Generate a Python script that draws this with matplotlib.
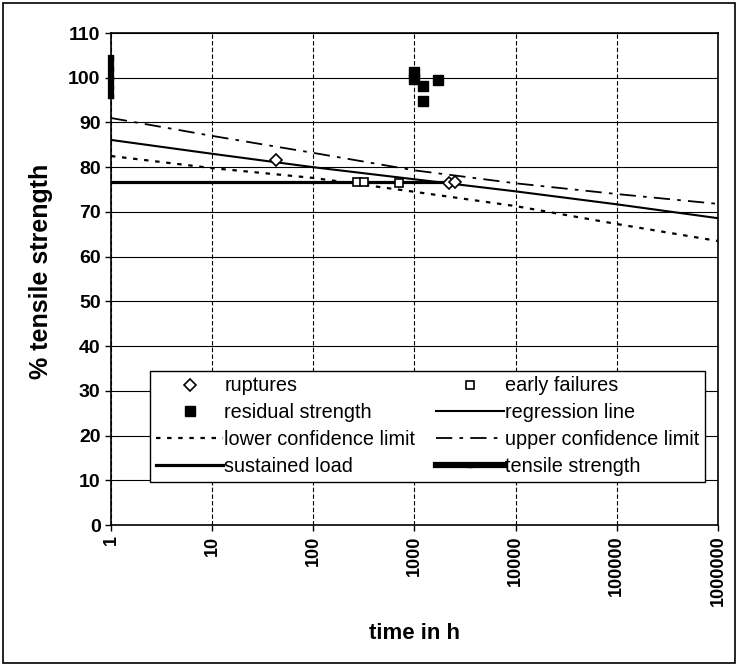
import matplotlib
matplotlib.use("Agg")
import matplotlib.pyplot as plt
from matplotlib.patches import Rectangle

plt.rcParams['font.family'] = ['Liberation Sans', 'DejaVu Sans']

# lines read at each decade
decades = [1, 10, 100, 1000, 10000, 100000, 1000000]
regression = [86.1, 83.0, 80.0, 77.3, 74.6, 71.7, 68.6]
upper_limit = [91.0, 87.0, 83.2, 79.3, 76.4, 74.0, 71.8]
lower_limit = [82.5, 79.8, 77.6, 74.5, 71.3, 67.3, 63.5]

# test points
rupture_t = [43, 2200, 2500]
rupture_v = [81.5, 76.5, 76.6]
early_t = [270, 320, 700]
early_v = [76.6, 76.8, 76.5]
residual_t = [1000, 1000, 1200, 1200, 1700]
residual_v = [101.3, 99.8, 98.1, 94.8, 99.4]
sustained_t = [1, 2700]
sustained_v = [76.7, 76.7]
tensile_t = [1, 1, 1, 1, 1]
tensile_v = [96.0, 98.0, 100.0, 102.0, 104.5]

xticks = [1, 10, 100, 1000, 10000, 100000, 1000000]
xticklabels = ['1', '10', '100', '1000', '10000', '100000', '1000000']
yticks = list(range(0, 111, 10))

fig = plt.figure(figsize=(7.38, 6.66), dpi=100)
ax = fig.add_axes([0.1504, 0.2117, 0.8225, 0.7387])

h_rup, = ax.plot(rupture_t, rupture_v, 'D', ms=6, mfc='white', mec='black', mew=1.2, ls='none', zorder=5)
h_res, = ax.plot(residual_t, residual_v, 's', ms=7.5, color='black', ls='none', zorder=5)
h_low, = ax.plot(decades, lower_limit, color='black', lw=1.6, ls=(0, (2, 3)))
h_sus, = ax.plot(sustained_t, sustained_v, color='black', lw=2.3)
h_early, = ax.plot(early_t, early_v, 's', ms=6, mfc='white', mec='black', mew=1.2, ls='none', zorder=5)
h_reg, = ax.plot(decades, regression, color='black', lw=1.5)
h_up, = ax.plot(decades, upper_limit, color='black', lw=1.3, ls=(0, (9, 4, 2, 4)))
h_ten, = ax.plot(tensile_t, tensile_v, color='black', lw=4.5, marker='s', ms=3, clip_on=False, zorder=6)

ax.set_xscale('log')
ax.set_xlim(1, 1000000)
ax.set_ylim(0, 110)
ax.set_xticks(xticks)
ax.set_xticklabels(xticklabels, rotation=90, fontsize=13, fontweight='bold')
ax.minorticks_off()
ax.set_yticks(yticks)
ax.set_yticklabels([str(v) for v in yticks], fontsize=14, fontweight='bold')
ax.tick_params(direction='out', length=4, width=1, color='black')

ax.grid(axis='y', color='black', lw=0.8, ls='-')
ax.grid(axis='x', color='black', lw=0.8, ls=(0, (4, 2)))
ax.set_axisbelow(True)
for s in ax.spines.values():
    s.set_linewidth(1.2)
    s.set_color('black')

ax.set_ylabel('% tensile strength', fontsize=18, fontweight='bold')
ax.yaxis.set_label_coords(-0.095, 0.516)
ax.set_xlabel('time in h', fontsize=16, fontweight='bold', labelpad=12)

leg = ax.legend([h_rup, h_res, h_low, h_sus, h_early, h_reg, h_up, h_ten],
                ['ruptures', 'residual strength', 'lower confidence limit', 'sustained load',
                 'early failures', 'regression line', 'upper confidence limit', 'tensile strength'],
                ncol=2, loc='upper left', bbox_to_anchor=(0.064, 0.314),
                fontsize=14.3, handlelength=3.4, handletextpad=0.05, columnspacing=1.05,
                borderaxespad=0, labelspacing=0.4, fancybox=False, framealpha=1,
                edgecolor='black', borderpad=0.3)
leg.get_frame().set_linewidth(1.0)

fig.patches.append(Rectangle((0.004, 0.004), 0.992, 0.992, transform=fig.transFigure,
                             fill=False, edgecolor='black', lw=1.2))

fig.savefig('out.png', dpi=100)
